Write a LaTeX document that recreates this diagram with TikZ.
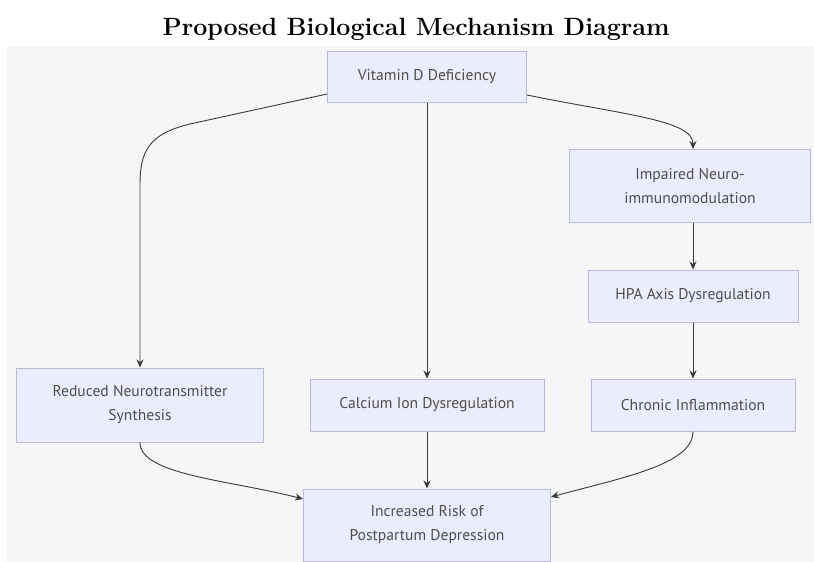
\documentclass[tikz,border=0pt]{standalone}
\usepackage{fontspec}
\newfontfamily\boxfont{PT Sans}
\usetikzlibrary{arrows.meta}
\definecolor{nodefill}{HTML}{ECECFF}
\definecolor{nodeline}{HTML}{BCB8DA}
\definecolor{edgegray}{HTML}{3A3A3A}
\definecolor{canvasgray}{HTML}{F6F6F8}

\begin{document}
\begin{tikzpicture}[x=1pt,y=-1pt]
\tikzstyle{box} = [rectangle, draw=nodeline, fill=nodefill, line width=1pt, align=center, text=edgegray!90, font=\boxfont\fontsize{15.6}{24}\selectfont, inner sep=0pt]
\tikzstyle{flow} = [-{Stealth[length=8pt,width=7pt]}, draw=edgegray, line width=0.9pt]

\useasboundingbox (0,0) rectangle (814,562);
\fill[canvasgray] (7,47) rectangle (814,562);
\node (title) at (416,29) {\fontsize{25}{30}\selectfont\bfseries Proposed Biological Mechanism Diagram};

% top of the chain
\node (vit) [box, minimum width=199pt, minimum height=51pt] at (427,77) {Vitamin D Deficiency};

% three routes
\node (red) [box, minimum width=247pt, minimum height=74pt] at (140,405) {Reduced Neurotransmitter\\Synthesis};
\node (cal) [box, minimum width=234pt, minimum height=52pt] at (427,405) {Calcium Ion Dysregulation};
\node (imp) [box, minimum width=241pt, minimum height=73pt] at (690,186) {Impaired Neuro-\\immunomodulation};
\node (hpa) [box, minimum width=210pt, minimum height=52pt] at (693,296) {HPA Axis Dysregulation};
\node (chr) [box, minimum width=204pt, minimum height=52pt] at (693,405) {Chronic Inflammation};

% outcome
\node (inc) [box, minimum width=247pt, minimum height=72pt] at (427,525) {Increased Risk of\\Postpartum Depression};

\coordinate (lbend) at (140,185);
\draw[flow] ([yshift=-17pt]vit.west) -- (190,124) .. controls (148,134) and (140,152) .. (lbend) -- (red.north);
\draw[flow] (vit) -- (cal);
\draw[flow] ([yshift=-18pt]vit.east) .. controls (625,115) and (693,120) .. ([xshift=3pt]imp.north);
\draw[flow] ([xshift=3pt]imp.south) -- (hpa);
\draw[flow] (hpa) -- (chr);

\draw[flow] (red.south) .. controls (140,475) and (230,480) .. ([yshift=26pt]inc.west);
\draw[flow] (cal) -- (inc);
\draw[flow] (chr.south) .. controls (693,465) and (620,478) .. ([yshift=28pt]inc.east);

\end{tikzpicture}
\end{document}
